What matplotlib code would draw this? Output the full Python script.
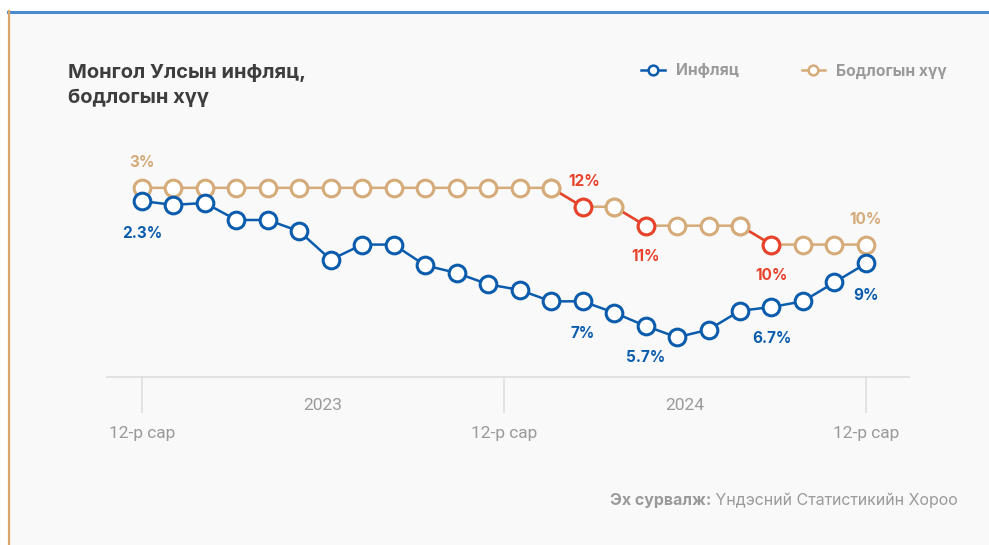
import numpy as np
import matplotlib
matplotlib.use("Agg")
import matplotlib.pyplot as plt
from matplotlib.lines import Line2D
from matplotlib.patches import Rectangle
from matplotlib.transforms import blended_transform_factory

# monthly values, 12-р сар 2022 -> 12-р сар 2024 (as drawn)
inflation = [12.3, 12.1, 12.2, 11.3, 11.3, 10.7, 9.2, 10.0, 10.0, 8.9, 8.5, 7.9,
             7.6, 7.0, 7.0, 6.4, 5.7, 5.1, 5.5, 6.5, 6.7, 7.0, 8.0, 9.0]
policy_rate = [13, 13, 13, 13, 13, 13, 13, 13, 13, 13, 13, 13,
               13, 13, 12, 12, 11, 11, 11, 11, 10, 10, 10, 10]

infl_label_idx = [0, 14, 16, 20, 23]
infl_label_txt = ["2.3%", "7%", "5.7%", "6.7%", "9%"]
rate_label_idx = [0, 14, 16, 20, 23]
rate_label_txt = ["3%", "12%", "11%", "10%", "10%"]

tick_pos = [0, 11.5, 23]
tick_txt = ["12-р сар", "12-р сар", "12-р сар"]
year_pos = [5.75, 17.25]
year_txt = ["2023", "2024"]

BLUE = "#0b5cad"
TAN = "#d5ab79"
RED = "#e8412c"
GREY = "#9a9a9a"

plt.rcParams["font.family"] = ["Inter", "DejaVu Sans"]

W, H = 989, 545
fig = plt.figure(figsize=(W / 100, H / 100), dpi=100, facecolor="white")

# card background with coloured top / left borders
fig.patches.append(Rectangle((8 / W, 0), 1, 1 - 11 / H, transform=fig.transFigure,
                             facecolor="#f9f9f9", edgecolor="none", zorder=-5))
fig.add_artist(Line2D([8 / W, 1], [1 - 11.5 / H] * 2, transform=fig.transFigure,
                      color="#4a8ccc", lw=2.2, zorder=-4))
fig.add_artist(Line2D([8.5 / W] * 2, [0, 1 - 11 / H], transform=fig.transFigure,
                      color="#dba66a", lw=1.6, zorder=-4))

ax = fig.add_axes([107 / W, 1 - 377 / H, 802 / W, 227 / H])
ax.set_facecolor("none")
x = np.arange(len(inflation))
ax.set_xlim(-1.11, 24.37)
ax.set_ylim(3, 15)

mk = dict(marker="o", markersize=12, markerfacecolor="white", markeredgewidth=2.2)

# policy rate line, red where the rate changed
ax.plot(x, policy_rate, color=TAN, lw=1.8, markeredgecolor=TAN, zorder=3, clip_on=False, **mk)
changes = [i for i in range(1, len(policy_rate)) if policy_rate[i] != policy_rate[i - 1]]
for i in changes:
    ax.plot([x[i - 1], x[i]], [policy_rate[i - 1], policy_rate[i]], color=RED, lw=1.8, zorder=3)
    ax.plot(x[i - 1], policy_rate[i - 1], color=TAN, markeredgecolor=TAN, zorder=3.1, **mk)
    ax.plot(x[i], policy_rate[i], color=RED, markeredgecolor=RED, zorder=3.1, **mk)

ax.plot(x, inflation, color=BLUE, lw=1.8, markeredgecolor=BLUE, zorder=4, clip_on=False, **mk)

# value labels
for i, t in zip(rate_label_idx, rate_label_txt):
    col = RED if i in changes else TAN
    up = i == 0 or i == len(policy_rate) - 1 or i == changes[0]
    dy = 18 if up else -22
    dx = 1.5 if i == changes[0] else 0
    ax.annotate(t, (x[i], policy_rate[i]), xytext=(dx, dy), textcoords="offset points",
                ha="center", va="center", color=col, fontsize=11, fontweight="bold", zorder=5)
for i, t in zip(infl_label_idx, infl_label_txt):
    ax.annotate(t, (x[i], inflation[i]), xytext=(0, -23), textcoords="offset points",
                ha="center", va="center", color=BLUE, fontsize=11, fontweight="bold", zorder=5)

# axis styling
for s in ["top", "right", "left"]:
    ax.spines[s].set_visible(False)
ax.spines["bottom"].set_color("#dddddd")
ax.spines["bottom"].set_linewidth(1.2)
ax.set_yticks([])
ax.set_xticks(tick_pos)
ax.set_xticklabels(tick_txt, fontfamily=["Roboto", "DejaVu Sans"], fontsize=12.5, color=GREY)
ax.tick_params(axis="x", length=26, width=1.1, color="#dddddd", pad=9)

tr = blended_transform_factory(ax.transData, ax.transAxes)
for p, t in zip(year_pos, year_txt):
    ax.text(p, -0.125, t, transform=tr, ha="center", va="center", fontsize=12.5,
            fontfamily=["Roboto", "DejaVu Sans"], color=GREY)

# title
fig.text(68 / W, 1 - 73 / H, "Монгол Улсын инфляц,", fontsize=14.5, fontweight="bold",
         color="#3d3d3d", va="center", ha="left")
fig.text(68 / W, 1 - 98 / H, "бодлогын хүү", fontsize=14.5, fontweight="bold",
         color="#3d3d3d", va="center", ha="left")

# legend
handles = [Line2D([], [], color=BLUE, lw=1.8, marker="o", markersize=7,
                  markerfacecolor="white", markeredgewidth=1.8, markeredgecolor=BLUE),
           Line2D([], [], color=TAN, lw=1.8, marker="o", markersize=7,
                  markerfacecolor="white", markeredgewidth=1.8, markeredgecolor=TAN)]
fig.legend(handles, ["Инфляц", "Бодлогын хүү"], loc="center right",
           bbox_to_anchor=(947 / W, 1 - 71 / H), bbox_transform=fig.transFigure,
           ncol=2, frameon=False, borderpad=0, borderaxespad=0, handlelength=1.5,
           handletextpad=0.7, columnspacing=4.0,
           prop={"weight": "bold", "size": 11.3}, labelcolor=GREY)

# source note
src = fig.text(958 / W, 1 - 500 / H, " Үндэсний Статистикийн Хороо", fontsize=11.5,
               color=GREY, ha="right", va="center")
fig.canvas.draw()
bb = src.get_window_extent()
fig.text(bb.x0 / W, 1 - 500 / H, "Эх сурвалж:", fontsize=11.5, fontweight="bold",
         color=GREY, ha="right", va="center")

fig.savefig("out.png", dpi=100, facecolor="white")
